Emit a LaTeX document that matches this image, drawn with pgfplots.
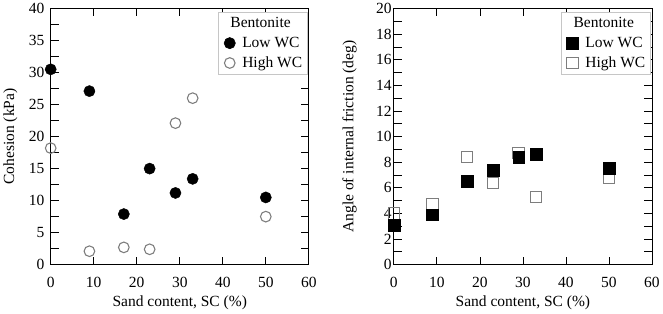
\documentclass[border=0pt]{standalone}
\usepackage{fontspec}
\setmainfont{Liberation Serif}
\usepackage{pgfplots}
\pgfplotsset{compat=1.18}

\newcommand\fs{\fontsize{15.8}{19}\selectfont}
\definecolor{opengray}{RGB}{125,125,125}

\pgfplotsset{
  panel/.style={
    scale only axis, width=262bp, height=260bp,
    xmin=0, xmax=60, xtick={0,10,...,60},
    tick align=inside, major tick length=8bp, minor tick length=8bp,
    minor y tick num=1, minor x tick num=0,
    every tick/.style={black, line width=0.8pt},
    axis line style={line width=0.8pt},
    tick label style={font=\fs},
    /pgf/number format/assume math mode=true,
    xticklabel style={anchor=center, yshift=-18bp},
    xlabel={Sand content, SC (\%)},
    every axis x label/.style={at={(rel axis cs:0.5,0)}, yshift=-39bp, anchor=center, font=\fs},
    legend cell align=left,
    legend style={at={(rel axis cs:1,1)}, anchor=north east, xshift=-1.5bp, yshift=-3.5bp,
      draw=gray!45, line width=0.6pt, font=\fs, inner xsep=3bp, inner ysep=3.5bp,
      row sep=4bp, column sep=5bp},
  },
  lowc/.style={only marks, mark=*, mark size=5.7bp, mark options={fill=black, draw=black}},
  highc/.style={only marks, mark=o, mark size=5.4bp, mark options={draw=opengray, line width=1.1pt, fill=white}},
  lows/.style={only marks, mark=square*, mark size=6bp, mark options={fill=black, draw=black}},
  highs/.style={only marks, mark=square, mark size=5.8bp, mark options={draw=opengray, line width=1.1pt, fill=white}},
}

\begin{document}
\begin{tikzpicture}
% Cohesion against sand content
\begin{axis}[panel,
  ymin=0, ymax=40, ytick={0,5,...,40},
  yticklabel style={anchor=east, xshift=-3bp},
  ylabel={Cohesion (kPa)},
  every axis y label/.style={at={(rel axis cs:0,0.5)}, xshift=-41bp, rotate=90, anchor=center, font=\fs},
]
\addlegendimage{empty legend}
\addlegendentry{\hspace*{-12bp}Bentonite}
\addlegendimage{lowc}
\addlegendentry{Low WC}
\addlegendimage{highc}
\addlegendentry{High WC}
\addplot[lowc, forget plot] coordinates {
  (0,30.5) (9,27.1) (17,7.9) (23,15.0) (29,11.2) (33,13.4) (50,10.5)};
\addplot[highc, forget plot] coordinates {
  (0,18.2) (9,2.1) (17,2.7) (23,2.4) (29,22.1) (33,26.0) (50,7.5)};
\end{axis}

% Angle of internal friction against sand content
\begin{axis}[panel, xshift=348.3bp,
  ymin=0, ymax=20, ytick={0,2,...,20},
  yticklabel style={anchor=east, xshift=1.3bp},
  ylabel={Angle of internal friction (deg)},
  every axis y label/.style={at={(rel axis cs:0,0.5)}, xshift=-45bp, rotate=90, anchor=center, font=\fs},
]
\addlegendimage{empty legend}
\addlegendentry{\hspace*{-12bp}Bentonite}
\addlegendimage{lows}
\addlegendentry{Low WC}
\addlegendimage{highs}
\addlegendentry{High WC}
\addplot[highs, forget plot] coordinates {
  (0,4.0) (9,4.7) (17,8.4) (23,6.4) (29,8.7) (33,5.3) (50,6.8)};
\addplot[lows, forget plot] coordinates {
  (0,3.1) (9,3.9) (17,6.5) (23,7.4) (29,8.4) (33,8.6) (50,7.5)};
\end{axis}
\end{tikzpicture}
\end{document}
